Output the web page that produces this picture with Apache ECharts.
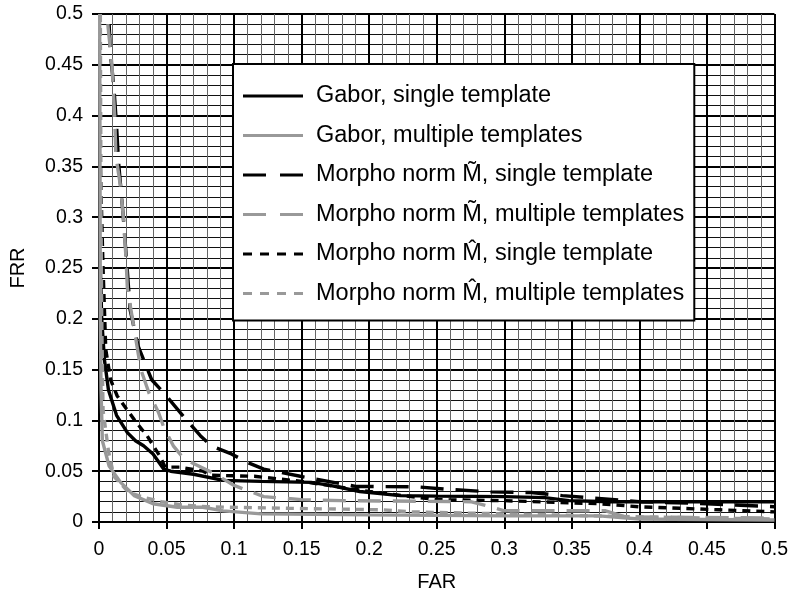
<!DOCTYPE html>
<html style="height: 100%">
<head>
    <meta charset="utf-8">
    <script src="https://cdn.jsdelivr.net/npm/echarts@6/dist/echarts.min.js"></script>
</head>
<body style="height: 100%; margin: 0">
    <div id="main" style="width:791px;height:597px;"></div>
    <script type="text/javascript">
    // series names (legend text)
    var seriesNames = [
        'Gabor, single template',
        'Gabor, multiple templates',
        'Morpho norm M\u0303, single template',
        'Morpho norm M\u0303, multiple templates',
        'Morpho norm M\u0302, single template',
        'Morpho norm M\u0302, multiple templates'
    ];

    // [FAR, FRR] points
    var gaborSingle = [[0.001,0.25],[0.002,0.2],[0.004,0.16],[0.007,0.13],[0.013,0.105],[0.021,0.088],[0.027,0.08],[0.033,0.075],[0.040,0.067],[0.048,0.052],[0.053,0.05],[0.07,0.047],[0.092,0.041],[0.12,0.04],[0.157,0.039],[0.171,0.036],[0.193,0.03],[0.223,0.026],[0.25,0.0255],[0.3,0.025],[0.33,0.024],[0.348,0.021],[0.379,0.02],[0.5,0.02]];
    var gaborMulti = [[0.0005,0.5],[0.001,0.2],[0.0015,0.13],[0.0025,0.08],[0.0075,0.055],[0.016,0.039],[0.026,0.026],[0.04,0.018],[0.058,0.0145],[0.077,0.0145],[0.092,0.011],[0.12,0.008],[0.2,0.007],[0.3,0.006],[0.37,0.006],[0.4,0.003],[0.5,0.002]];
    var tildeSingle = [[0.0075,0.49],[0.0085,0.46],[0.011,0.428],[0.013,0.39],[0.0145,0.354],[0.018,0.3],[0.021,0.247],[0.023,0.209],[0.029,0.173],[0.039,0.14],[0.048,0.127],[0.0625,0.104],[0.075,0.085],[0.083,0.075],[0.098,0.067],[0.11,0.0585],[0.122,0.052],[0.149,0.045],[0.19,0.035],[0.236,0.0346],[0.26,0.032],[0.29,0.0297],[0.32,0.029],[0.343,0.026],[0.4,0.02],[0.45,0.018],[0.5,0.015]];
    var tildeMulti = [[0.0065,0.49],[0.0096,0.45],[0.0116,0.4],[0.0125,0.36],[0.016,0.33],[0.018,0.3],[0.02,0.26],[0.021,0.23],[0.026,0.19],[0.031,0.15],[0.037,0.127],[0.044,0.108],[0.048,0.093],[0.055,0.075],[0.063,0.062],[0.085,0.048],[0.1,0.036],[0.122,0.025],[0.15,0.022],[0.18,0.021],[0.275,0.02],[0.29,0.015],[0.3,0.011],[0.375,0.011],[0.39,0.005],[0.5,0.004]];
    var hatSingle = [[0.0007,0.5],[0.001,0.35],[0.003,0.25],[0.005,0.17],[0.0086,0.14],[0.0135,0.124],[0.027,0.099],[0.0355,0.085],[0.045,0.065],[0.049,0.054],[0.06,0.054],[0.077,0.05],[0.083,0.046],[0.115,0.045],[0.15,0.04],[0.2,0.03],[0.25,0.022],[0.3,0.021],[0.37,0.018],[0.4,0.015],[0.46,0.012],[0.5,0.01]];
    var hatMulti = [[0.001,0.5],[0.0015,0.3],[0.002,0.2],[0.003,0.11],[0.007,0.07],[0.011,0.045],[0.022,0.029],[0.034,0.024],[0.046,0.02],[0.06,0.017],[0.08,0.015],[0.14,0.0135],[0.21,0.012],[0.23,0.01],[0.3,0.008],[0.4,0.005],[0.5,0.003]];

    var allData = [gaborSingle, gaborMulti, tildeSingle, tildeMulti, hatSingle, hatMulti];
    var colors = ['#000', '#999', '#000', '#999', '#000', '#999'];
    var dashes = ['solid', 'solid', [23, 12], [23, 12], [8, 6], [8, 6]];

    // legend glyphs drawn as filled bars so the dash pattern shows exactly
    var solidIcon = 'path://M0,0h60v3h-60z';
    var dashIcon = 'path://M0,0h23v3h-23zM37,0h23v3h-23z';
    var dotIcon = 'path://M0,0h9v3h-9zM17,0h9v3h-9zM34,0h9v3h-9zM51,0h9v3h-9z';
    var icons = [solidIcon, solidIcon, dashIcon, dashIcon, dotIcon, dotIcon];

    var myChart = echarts.init(document.getElementById('main'));

    var font = '"Liberation Sans", Arial, sans-serif';

    var series = allData.map(function (d, i) {
        return {
            name: seriesNames[i],
            type: 'line',
            data: d,
            symbol: 'none',
            showSymbol: false,
            color: colors[i],
            lineStyle: {
                color: colors[i],
                width: 3.4,
                type: dashes[i]
            },
            z: 3 + (i % 2 === 0 ? 0 : 1)
        };
    });

    var option = {
        animation: false,
        backgroundColor: '#fff',
        grid: {
            left: 98,
            right: 16,
            top: 14,
            bottom: 73
        },
        legend: {
            orient: 'vertical',
            left: 233,
            top: 64,
            backgroundColor: '#fff',
            borderColor: '#000',
            borderWidth: 2,
            borderRadius: 0,
            padding: [20, 10, 15, 10],
            itemWidth: 60,
            itemHeight: 3,
            itemGap: 15.5,
            textStyle: {
                color: '#000',
                fontSize: 23.5,
                fontFamily: font,
                padding: [0, 0, 0, 8]
            },
            data: seriesNames.map(function (n, i) {
                return { name: n, icon: icons[i] };
            })
        },
        xAxis: {
            type: 'value',
            min: 0,
            max: 0.5,
            interval: 0.05,
            name: 'FAR',
            nameLocation: 'middle',
            nameGap: 50,
            nameTextStyle: { color: '#000', fontSize: 20, fontFamily: font },
            axisLine: { lineStyle: { color: '#000', width: 2 } },
            axisTick: { show: true, length: 7, lineStyle: { color: '#000', width: 2 } },
            axisLabel: { color: '#000', fontSize: 19.5, fontFamily: font, margin: 18 },
            splitLine: { show: true, lineStyle: { color: '#000', width: 2 } },
            minorTick: { show: false, splitNumber: 5 },
            minorSplitLine: { show: true, lineStyle: { color: '#666', width: 1 } }
        },
        yAxis: {
            type: 'value',
            min: 0,
            max: 0.5,
            interval: 0.05,
            name: 'FRR',
            nameLocation: 'middle',
            nameGap: 71,
            nameTextStyle: { color: '#000', fontSize: 20, fontFamily: font },
            axisLine: { show: true, lineStyle: { color: '#000', width: 2 } },
            axisTick: { show: true, length: 7, lineStyle: { color: '#000', width: 2 } },
            axisLabel: { color: '#000', fontSize: 19.5, fontFamily: font, margin: 16 },
            splitLine: { show: true, lineStyle: { color: '#000', width: 2 } },
            minorTick: { show: false, splitNumber: 5 },
            minorSplitLine: { show: true, lineStyle: { color: '#111', width: 1 } }
        },
        series: series
    };

    myChart.setOption(option, true);
    </script>
</body>
</html>
